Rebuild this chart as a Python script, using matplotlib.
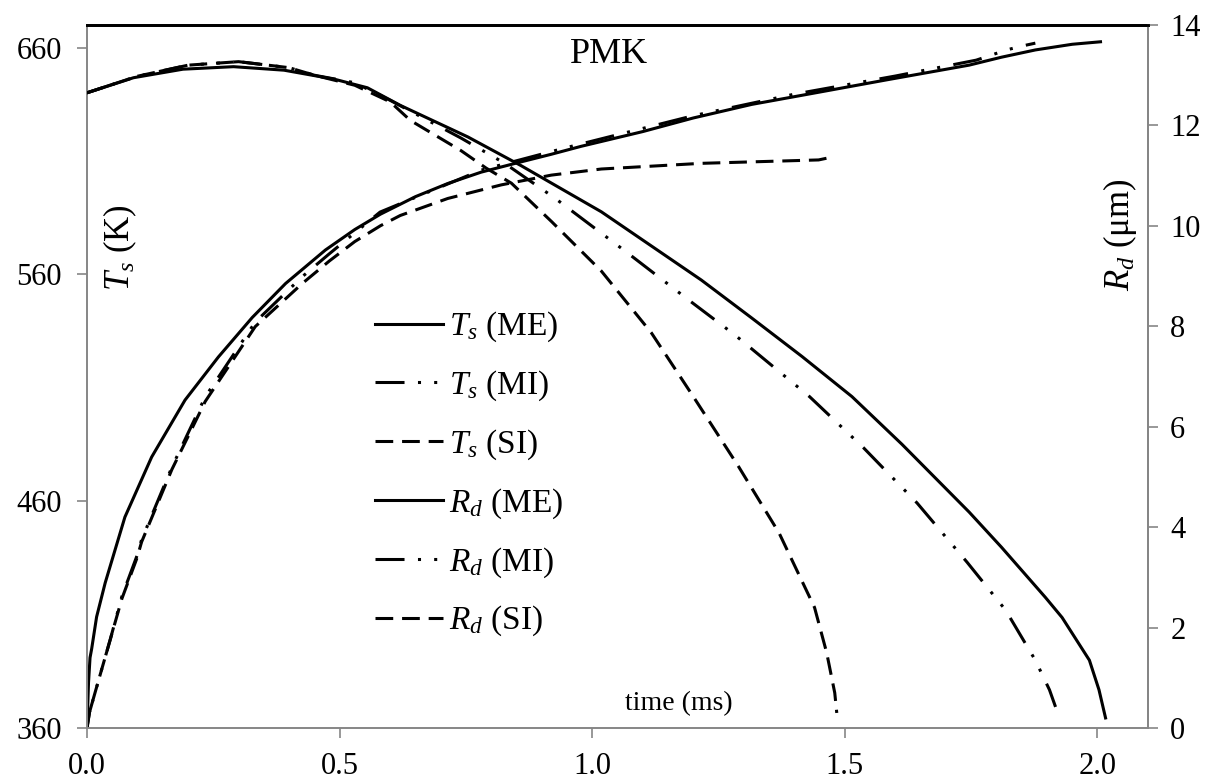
import matplotlib
matplotlib.use("Agg")
import matplotlib.pyplot as plt

plt.rcParams['font.family'] = ['Liberation Serif', 'DejaVu Serif']
plt.rcParams['mathtext.fontset'] = 'custom'
plt.rcParams['mathtext.rm'] = 'Liberation Serif'
plt.rcParams['mathtext.it'] = 'Liberation Serif:italic'

# ---- Data (time in ms) ----
t_ts_me = [0.0, 0.003, 0.006, 0.0093, 0.019, 0.036, 0.075, 0.128, 0.194, 0.26, 0.327, 0.393, 0.472,
           0.53, 0.581, 0.65, 0.714, 0.78, 0.853, 0.919, 0.978, 1.1, 1.2, 1.316, 1.415, 1.58, 1.746,
           1.81, 1.877, 1.95, 2.006]
ts_me = [360, 380, 391, 395, 409, 424, 453, 479.5, 504.6, 523.6, 541, 556, 570.8,
         579.8, 586.6, 594.3, 600.1, 605.1, 609.3, 613, 616.5, 623, 629, 635, 639, 645.7, 652.3,
         655.8, 659, 661.5, 662.6]

t_ts_mi = [0.0, 0.005, 0.019, 0.046, 0.069, 0.099, 0.108, 0.168, 0.234, 0.333, 0.426, 0.479,
           0.58, 0.78, 0.95, 1.2, 1.4, 1.6, 1.76, 1.82, 1.85, 1.877]
ts_mi = [360, 367, 378, 399, 418, 436, 443, 475, 506, 539, 559, 569,
         587.5, 606, 616, 630, 639.5, 647.5, 654.5, 659, 660.7, 662]

t_ts_si = [0.0, 0.005, 0.019, 0.046, 0.069, 0.099, 0.108, 0.168, 0.234, 0.333, 0.426, 0.48,
           0.53, 0.581, 0.62, 0.714, 0.82, 0.919, 1.018, 1.216, 1.448, 1.48]
ts_si = [360, 367, 378, 399, 417, 435, 442, 474, 504, 537, 556, 566,
         574.5, 581.5, 586, 593.5, 599.5, 603.8, 606.5, 609, 610.5, 612]

t_rd_me = [0.0, 0.092, 0.19, 0.29, 0.39, 0.49, 0.555, 0.62, 0.754, 0.859, 1.018, 1.117, 1.216,
           1.315, 1.415, 1.514, 1.613, 1.746, 1.81, 1.897, 1.93, 1.984, 2.003, 2.016]
rd_me = [12.65, 12.95, 13.12, 13.17, 13.1, 12.92, 12.75, 12.4, 11.77, 11.2, 10.28, 9.6, 8.92,
         8.17, 7.4, 6.6, 5.65, 4.3, 3.6, 2.6, 2.2, 1.35, 0.76, 0.2]

t_rd_mi = [0.0, 0.1, 0.2, 0.3, 0.4, 0.45, 0.53, 0.6, 0.74, 0.826, 0.925, 1.07, 1.19, 1.282,
           1.43, 1.537, 1.643, 1.742, 1.798, 1.818, 1.877, 1.905, 1.917]
rd_mi = [12.65, 12.98, 13.2, 13.27, 13.15, 13.0, 12.85, 12.5, 11.75, 11.25, 10.56, 9.46, 8.53, 7.83,
         6.6, 5.58, 4.48, 3.3, 2.6, 2.35, 1.35, 0.76, 0.42]

t_rd_si = [0.0, 0.1, 0.2, 0.3, 0.4, 0.45, 0.53, 0.6, 0.64, 0.74, 0.79, 0.84, 0.92, 1.018, 1.117,
           1.2, 1.29, 1.37, 1.44, 1.464, 1.48, 1.484]
rd_si = [12.65, 12.98, 13.2, 13.27, 13.15, 13.0, 12.8, 12.47, 12.1, 11.5, 11.15, 10.85, 10.08, 9.1, 7.87,
         6.6, 5.2, 3.88, 2.4, 1.5, 0.7, 0.3]

x_ticks = [0.0, 0.5, 1.0, 1.5, 2.0]
x_ticklabels = ['0.0', '0.5', '1.0', '1.5', '2.0']
ts_ticks = [360, 460, 560, 660]
rd_ticks = [0, 2, 4, 6, 8, 10, 12, 14]

labels = [r'$T_s$ (ME)', r'$T_s$ (MI)', r'$T_s$ (SI)', r'$R_d$ (ME)', r'$R_d$ (MI)', r'$R_d$ (SI)']

# ---- Figure ----
W, H = 1215, 783
fig = plt.figure(figsize=(W / 100, H / 100), dpi=100)
L, R, T, B = 87, 1148, 25, 728
ax = fig.add_axes([L / W, 1 - B / H, (R - L) / W, (B - T) / H])
ax2 = ax.twinx()

LW = 2.2
dash_mi = (0, (9.5, 4.4, 1.0, 4.3, 1.0, 4.4))
dash_si = (0, (5.8, 2.9))

kw = dict(color='black', lw=LW)
h1, = ax.plot(t_ts_me, ts_me, linestyle='-', **kw)
h2, = ax.plot(t_ts_mi, ts_mi, linestyle=dash_mi, **kw)
h3, = ax.plot(t_ts_si, ts_si, linestyle=dash_si, **kw)
h4, = ax2.plot(t_rd_me, rd_me, linestyle='-', **kw)
h5, = ax2.plot(t_rd_mi, rd_mi, linestyle=dash_mi, **kw)
h6, = ax2.plot(t_rd_si, rd_si, linestyle=dash_si, **kw)

ax.set_xlim(0, 2.1)
ax.set_ylim(360, 670)
ax2.set_ylim(0, 14)

gray = '#868686'
ax.set_xticks(x_ticks)
ax.set_xticklabels(x_ticklabels)
ax.set_yticks(ts_ticks)
ax2.set_yticks(rd_ticks)

for a in (ax, ax2):
    a.tick_params(axis='both', direction='out', length=7, width=1.2, color=gray,
                  labelsize=22, labelcolor='black')
    for s in ('left', 'bottom', 'right'):
        a.spines[s].set_color(gray)
        a.spines[s].set_linewidth(1.4)
    a.spines['top'].set_color('black')
    a.spines['top'].set_linewidth(2.0)
ax2.spines['left'].set_visible(False)
ax2.spines['bottom'].set_visible(False)
ax.tick_params(axis='x', pad=10)
ax.tick_params(axis='y', pad=11)
ax2.tick_params(axis='y', pad=9)

ax.text(0.492, 0.981, 'PMK', transform=ax.transAxes, ha='center', va='top', fontsize=26)
ax.text(0.558, 0.034, 'time (ms)', transform=ax.transAxes, ha='center', va='center', fontsize=20)
ax.text(0.031, 0.684, r'$T_s$ (K)', transform=ax.transAxes, ha='center', va='center',
        rotation=90, fontsize=25)
ax.text(0.974, 0.701, r'$R_d$ (μm)', transform=ax.transAxes, ha='center', va='center',
        rotation=90, fontsize=25)

leg = ax2.legend([h1, h2, h3, h4, h5, h6], labels, loc='upper left',
                 bbox_to_anchor=((375 - L) / (R - L), 1 - (310 - T) / (B - T)),
                 frameon=False, fontsize=24, handlelength=2.04, handletextpad=0.18,
                 labelspacing=0.73, borderpad=0, borderaxespad=0)

fig.savefig('out.png', dpi=100)
